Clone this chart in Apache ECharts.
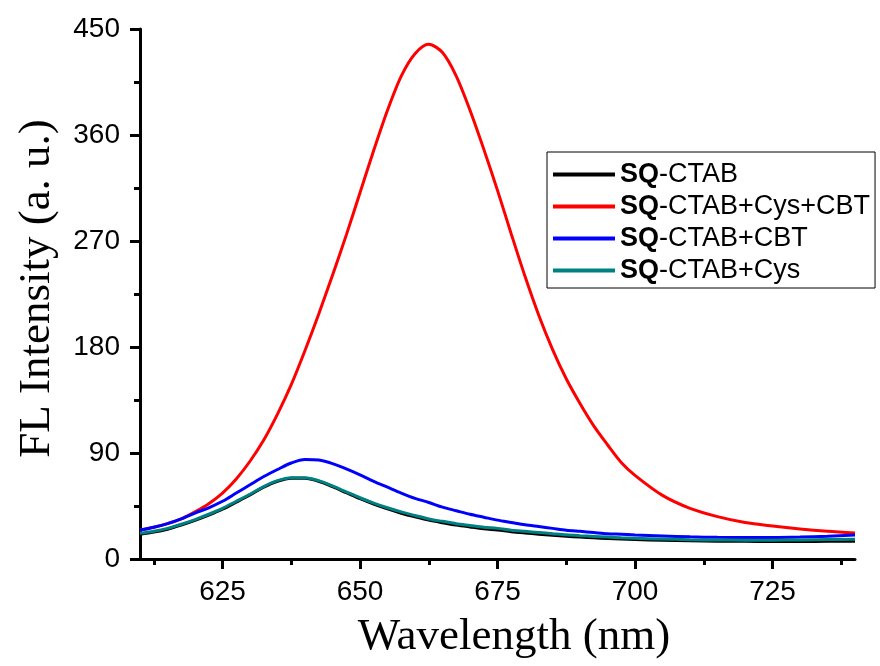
<!DOCTYPE html>
<html>
<head>
<meta charset="utf-8">
<script src="https://cdn.jsdelivr.net/npm/echarts@6/dist/echarts.min.js"></script>
<style>html,body{margin:0;padding:0;background:#fff}#c{width:880px;height:666px}</style>
</head>
<body>
<div id="c"></div>
<script>
const wavelength = [610,612.5,615,617.5,620,622.5,625,627.5,630,632.5,635,637.5,640,642.5,645,647.5,650,652.5,655,657.5,660,662.5,665,667.5,670,672.5,675,677.5,680,682.5,685,687.5,690,692.5,695,697.5,700,705,710,715,720,725,730,735,740];
const sqCtab = [21,22.8,25.3,28.8,32.8,37.3,42.3,48.3,54.4,61,66,68.6,68.6,66,61.4,56.3,51.2,46.6,42.5,38.9,35.8,33,30.8,28.8,27.2,25.7,24.6,23.2,22.1,21.1,20.2,19.3,18.6,18,17.4,16.9,16.5,15.9,15.4,15.1,15,14.9,14.9,15,15.1];
const sqCtabCysCbt = [24.6,27,30,34,40,47,56,68,83,101,123,148,177,208,241,275,311,347,381,410,429,437,430,410,381,348,313,276,240,207,178,153,132,113,97,82,71,54,43,36,31,28,25.5,23.5,22];
const sqCtabCbt = [24.6,27,30,34,39,43.5,49,56,63,70,76,81.5,84.5,84,81,76.5,71.5,66,61,56,51.5,48,44,41,38,35.5,33,31,29,27.5,26,24.5,23.5,22.5,21.5,21,20.4,19.6,18.8,18.4,18.2,18.2,18.6,19.4,20.4];
const sqCtabCys = [21.8,23.5,26,29.5,33.5,38,43,49,55,61.5,66.5,69,69,66.5,62,57,52,47.5,43.5,40,37,34,32,30,28.5,27,26,24.5,23.5,22.5,21.5,20.5,19.8,19.2,18.6,18,17.6,17,16.4,16.1,16,16,16.2,16.5,16.8];
const seriesNames = ['SQ-CTAB','SQ-CTAB+Cys+CBT','SQ-CTAB+CBT','SQ-CTAB+Cys'];
const seriesColors = ['#000000','#ff0000','#0000ff','#008080'];
const xMajorTicks = [625,650,675,700,725];
const xMinorTicks = [612.5,637.5,662.5,687.5,712.5,737.5];

const allValues = [sqCtab, sqCtabCysCbt, sqCtabCbt, sqCtabCys];
const chart = echarts.init(document.getElementById('c'), null, {renderer:'canvas'});
const axisLine = {show:true, lineStyle:{color:'#000', width:3}};
const sans = '"Liberation Sans", Arial, sans-serif';
const serif = '"Liberation Serif", "Times New Roman", serif';
chart.setOption({
  animation:false,
  backgroundColor:'#fff',
  grid:{left:140, right:25, top:29, bottom:107, containLabel:false},
  legend:{
    orient:'vertical', left:547, top:152,
    padding:[9,5,4,6], itemGap:5, itemWidth:62, itemHeight:4,
    borderColor:'#000', borderWidth:1, icon:'rect',
    data:seriesNames,
    formatter: n => '{b|SQ}{n|' + n.slice(2) + '}',
    textStyle:{
      rich:{
        b:{fontFamily:sans, fontSize:27, fontWeight:'bold', color:'#000', lineHeight:28},
        n:{fontFamily:sans, fontSize:27, color:'#000', lineHeight:28}
      }
    }
  },
  xAxis:[{
    type:'value', min:610, max:740, position:'bottom',
    name:'Wavelength (nm)', nameLocation:'middle', nameGap:56,
    nameTextStyle:{fontFamily:serif, fontSize:45, color:'#000', padding:[0,0,0,33]},
    axisLine:axisLine,
    axisTick:{show:true, inside:false, length:10, lineStyle:{width:3,color:'#000'}, customValues:xMajorTicks},
    axisLabel:{show:true, margin:19, fontFamily:sans, fontSize:28, color:'#000', customValues:xMajorTicks},
    splitLine:{show:false}
  },{
    type:'value', min:610, max:740, position:'bottom',
    axisLine:{show:false},
    axisTick:{show:true, inside:false, length:6, lineStyle:{width:3,color:'#000'}, customValues:xMinorTicks},
    axisLabel:{show:false},
    splitLine:{show:false}
  }],
  yAxis:{
    type:'value', min:0, max:450, interval:90,
    name:'FL Intensity (a. u.)', nameLocation:'middle', nameGap:80, nameRotate:90,
    nameTextStyle:{fontFamily:serif, fontSize:45, color:'#000', padding:[0,0,0,11]},
    axisLine:axisLine,
    axisTick:{show:true, inside:false, length:10, lineStyle:{width:3,color:'#000'}},
    minorTick:{show:true, splitNumber:2, length:6, lineStyle:{width:3,color:'#000'}},
    axisLabel:{margin:20, fontFamily:sans, fontSize:28, color:'#000'},
    splitLine:{show:false}
  },
  series: seriesNames.map((n,i)=>({
    name:n, type:'line', xAxisIndex:0, showSymbol:false, smooth:0.3,
    color:seriesColors[i],
    lineStyle:{width:3, color:seriesColors[i]},
    z: 2 + (i===3 ? 1 : 0),
    data: wavelength.map((w,j)=>[w, allValues[i][j]])
  }))
});
</script>
</body>
</html>
